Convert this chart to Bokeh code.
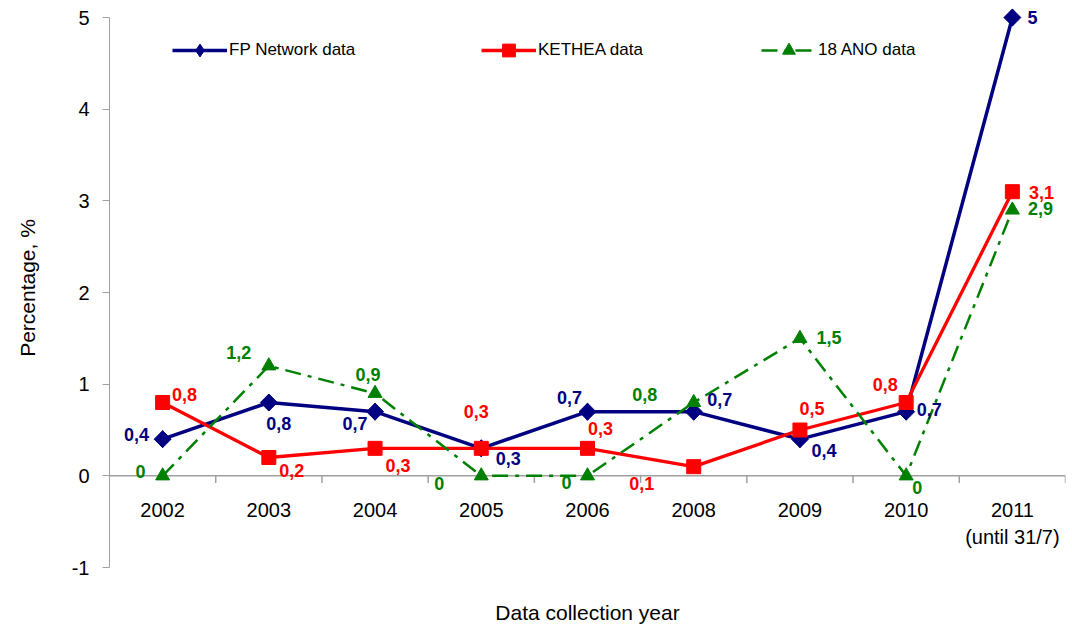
import math
from bokeh.plotting import figure
from bokeh.models import Range1d, Span, FixedTicker, Legend, LegendItem, ColumnDataSource
from bokeh.embed import file_html
from bokeh.resources import INLINE
from bokeh.core.properties import value

# ---------------- data ----------------
years = ["2002", "2003", "2004", "2005", "2006", "2008", "2009", "2010", "2011"]
year_sub = ["", "", "", "", "", "", "", "", "(until 31/7)"]
fp_network = [0.4, 0.8, 0.7, 0.3, 0.7, 0.7, 0.4, 0.7, 5]
kethea = [0.8, 0.2, 0.3, 0.3, 0.3, 0.1, 0.5, 0.8, 3.1]
ano18 = [0, 1.2, 0.9, 0, 0, 0.8, 1.5, 0, 2.9]
y_ticks = [-1, 0, 1, 2, 3, 4, 5]
series_names = ["FP Network data", "KETHEA data", "18 ANO data"]

# ---------------- label placement (screen px, +y is down) ----------------
fp_dx = [-26, 10, -20, 27, -18, 26, 24, 23, 20]
fp_dy = [-5, 21, 12, 10, -14, -12, 11, -2, 0]
ke_dx = [22, 23, 23, -5, 13, -52, 12, -21, 29]
ke_dy = [-8, 13, 17, -37, -20, 17, -22, -18, 1]
an_dx = [-22, -30, -7, -42, -21, -49, 29, 11, 28]
an_dy = [-4, -13, -19, 8, 7, -8, -1, 12, -2]

NAVY = "#000080"
RED = "#FF0000"
GREEN = "#008000"
AXIS_GRAY = "#A0A0A0"
FONT = "Liberation Sans"


def fmt(v):
    return f"{v:g}".replace(".", ",")


x = list(range(len(years)))

p = figure(width=1072, height=631,
           x_range=Range1d(-0.5, len(years) - 0.5),
           y_range=Range1d(-1, 5.0985),
           output_backend="svg", toolbar_location=None,
           min_border_left=109, min_border_right=7,
           min_border_top=8, min_border_bottom=64)
p.grid.visible = False
p.outline_line_color = None
p.background_fill_color = "white"
p.border_fill_color = "white"

# y axis
ya = p.yaxis[0]
ya.ticker = FixedTicker(ticks=y_ticks)
ya.bounds = (-1, 5)
ya.major_label_overrides = {t: str(t) for t in y_ticks}
ya.axis_line_color = AXIS_GRAY
ya.major_tick_line_color = AXIS_GRAY
ya.major_tick_out = 7
ya.major_tick_in = 0
ya.minor_tick_line_color = None
ya.major_label_standoff = 13
ya.major_label_text_font = FONT
ya.major_label_text_font_size = "20px"
ya.major_label_text_color = "black"
ya.axis_label = "Percentage, %"
ya.axis_label_text_font = FONT
ya.axis_label_text_font_size = "21px"
ya.axis_label_text_font_style = "normal"
ya.axis_label_text_color = "black"
ya.axis_label_standoff = 30

# x axis (only used for its title)
xa = p.xaxis[0]
xa.ticker = FixedTicker(ticks=[])
xa.axis_line_color = None
xa.major_tick_line_color = None
xa.minor_tick_line_color = None
xa.major_tick_out = 0
xa.major_label_standoff = 0
xa.axis_label = "Data collection year"
xa.axis_label_text_font = FONT
xa.axis_label_text_font_size = "21px"
xa.axis_label_text_font_style = "normal"
xa.axis_label_text_color = "black"
xa.axis_label_standoff = 33

# zero line with category ticks
p.add_layout(Span(location=0, dimension="width", line_color=AXIS_GRAY,
                  line_width=1.5, level="underlay"))
bounds = [i + 0.5 for i in x]
p.segment(x0=bounds, y0=[0] * len(bounds), x1=bounds, y1=[-0.077] * len(bounds),
          line_color=AXIS_GRAY, line_width=1.5)

# category labels
p.text(x=x, y=[0] * len(x), text=years, y_offset=34, text_align="center",
       text_baseline="middle", text_font=value(FONT), text_font_size="20px",
       text_color="black")
p.text(x=x, y=[0] * len(x), text=year_sub, y_offset=61, text_align="center",
       text_baseline="middle", text_font=value(FONT), text_font_size="20px",
       text_color="black")

# series
l1 = p.line(x, fp_network, line_color=NAVY, line_width=3.5)
s1d = p.scatter(x, fp_network, marker="diamond", size=17, fill_color=NAVY, line_color=NAVY)
s1 = p.scatter(x, fp_network, marker="square", angle=math.pi / 4, size=12,
               fill_color=NAVY, line_color=NAVY)
l2 = p.line(x, kethea, line_color=RED, line_width=3.3)
s2 = p.scatter(x, kethea, marker="square", size=14, fill_color=RED, line_color=RED)
l3 = p.line(x, ano18, line_color=GREEN, line_width=2.5, line_dash="16 7 4 7")
s3 = p.scatter(x, ano18, marker="triangle", size=14, fill_color=GREEN, line_color=GREEN)

# data labels
for vals, dx, dy, col in [(fp_network, fp_dx, fp_dy, NAVY),
                          (kethea, ke_dx, ke_dy, RED),
                          (ano18, an_dx, an_dy, GREEN)]:
    src = ColumnDataSource(dict(x=x, y=vals, t=[fmt(v) for v in vals], dx=dx, dy=dy))
    p.text(x="x", y="y", text="t", x_offset="dx", y_offset="dy", source=src,
           text_align="center", text_baseline="middle", text_font=value(FONT),
           text_font_style="bold", text_font_size="18px", text_color=col)

# legends
for name, rends, loc in [(series_names[0], [l1, s1d], (63, 501)),
                         (series_names[1], [l2, s2], (372, 501)),
                         (series_names[2], [l3, s3], (652, 501))]:
    leg = Legend(items=[LegendItem(label=name, renderers=rends)], location=loc,
                 orientation="horizontal", glyph_width=55, glyph_height=32,
                 label_standoff=2, padding=0, margin=0, spacing=0,
                 label_text_font=FONT, label_text_font_size="17px",
                 label_text_color="black", background_fill_alpha=0,
                 border_line_alpha=0)
    p.add_layout(leg, "center")

open("out.html", "w").write(file_html(p, INLINE))
